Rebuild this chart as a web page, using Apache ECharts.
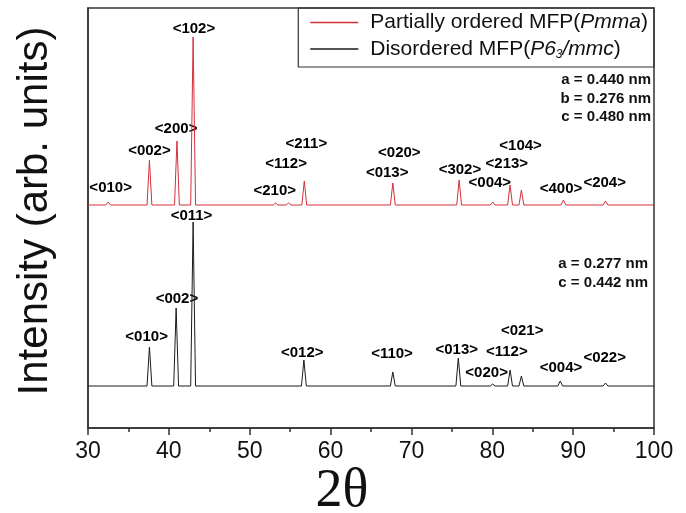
<!DOCTYPE html>
<html>
<head>
<meta charset="utf-8">
<script src="https://cdn.jsdelivr.net/npm/echarts@6/dist/echarts.min.js"></script>
<style>
  html, body { margin: 0; padding: 0; background: #fff; }
  #xrd { width: 686px; height: 513px; }
</style>
</head>
<body>
<div id="xrd"></div>
<script>
// peak positions (2theta) and peak tops, baseline for each pattern
var redBase = 223
var redPos = [32.5, 37.6, 41.0, 43.0, 53.2, 54.8, 56.75, 67.7, 75.9, 80.05, 82.2, 83.6, 88.8, 94.0]
var redTop = [226, 268, 287, 391, 225, 225, 247, 245, 248, 226, 243, 238, 228, 227]

var blackBase = 42
var blackPos = [37.6, 40.9, 43.0, 56.7, 67.7, 75.8, 80.05, 82.2, 83.6, 88.4, 94.0]
var blackTop = [81, 120, 206, 68, 56, 70, 44, 58, 52, 47, 45]

// hkl labels: [text, 2theta, intensity]
var redLabels = [
    ['<010>', 32.8, 240], ['<002>', 37.6, 277], ['<200>', 40.9, 299], ['<102>', 43.1, 399],
    ['<210>', 53.1, 237], ['<112>', 54.5, 264], ['<211>', 57.0, 284],
    ['<013>', 67.0, 255], ['<020>', 68.5, 275], ['<302>', 76.0, 258],
    ['<004>', 79.7, 245], ['<213>', 81.8, 264], ['<104>', 83.5, 282],
    ['<400>', 88.5, 239], ['<204>', 93.9, 245]
]
var blackLabels = [
    ['<010>', 37.25, 91], ['<002>', 41.0, 129], ['<011>', 42.8, 212], ['<012>', 56.5, 75],
    ['<110>', 67.6, 74], ['<013>', 75.6, 78], ['<020>', 79.3, 55], ['<112>', 81.8, 76],
    ['<021>', 83.7, 97], ['<004>', 88.5, 60], ['<022>', 93.9, 70]
]

function buildPattern(base, pos, top) {
    var pts = [[30, base]]
    for (var i = 0; i < pos.length; i++) {
        pts.push([pos[i] - 0.3, base])
        pts.push([pos[i], top[i]])
        pts.push([pos[i] + 0.3, base])
    }
    pts.push([100, base])
    return pts
}

function buildLabels(list) {
    return list.map(function (d) { return { name: d[0], value: [d[1], d[2]] } })
}

var font = 'Liberation Sans, Arial, sans-serif'
var chart = echarts.init(document.getElementById('xrd'))

var labelStyle = {
    show: true,
    position: 'inside',
    formatter: '{b}',
    fontFamily: font,
    fontSize: 15,
    fontWeight: 'bold',
    color: '#000',
    opacity: 1,
    textBorderWidth: 0
}

var option = {
    animation: false,
    grid: {
        left: 88, right: 32, top: 8, bottom: 85,
        show: true, borderColor: '#333', borderWidth: 1.5
    },
    legend: {
        data: ['Partially ordered MFP(Pmma)', 'Disordered MFP(P63/mmc)'],
        orient: 'vertical',
        right: 32, top: 8,
        padding: [4, 6, 6, 12],
        icon: 'rect',
        itemWidth: 48, itemHeight: 1.3, itemGap: 4,
        borderColor: '#333', borderWidth: 1.2,
        formatter: function (name) {
            if (name.indexOf('Pmma') > -1) return '{n|Partially ordered MFP(}{i|Pmma}{n|)}'
            return '{n|Disordered MFP(}{i|P6}{s|3}{i|/mmc}{n|)}'
        },
        textStyle: {
            padding: [0, 0, 0, 7],
            rich: {
                n: { fontFamily: font, fontSize: 21, color: '#111', lineHeight: 22 },
                i: { fontFamily: font, fontSize: 21, fontStyle: 'italic', color: '#111', lineHeight: 22 },
                s: { fontFamily: font, fontSize: 12, fontStyle: 'italic', color: '#111', lineHeight: 22, padding: [12, 0, 0, 0] }
            }
        }
    },
    xAxis: {
        type: 'value', min: 30, max: 100, interval: 10,
        axisLine: { lineStyle: { color: '#333', width: 1.5 } },
        axisTick: { length: 7, lineStyle: { color: '#333', width: 1.5 } },
        minorTick: { show: true, splitNumber: 2, length: 4, lineStyle: { color: '#333', width: 1.5 } },
        splitLine: { show: false },
        axisLabel: { fontFamily: font, fontSize: 23, color: '#111', margin: 12 }
    },
    yAxis: {
        type: 'value', min: 0, max: 420,
        axisLine: { show: true, lineStyle: { color: '#333', width: 1.5 } },
        axisTick: { show: false },
        axisLabel: { show: false },
        splitLine: { show: false }
    },
    series: [
        {
            name: 'Partially ordered MFP(Pmma)', type: 'line', symbol: 'none',
            data: buildPattern(redBase, redPos, redTop),
            lineStyle: { color: '#d3303a', width: 1 }, itemStyle: { color: '#d3303a' }
        },
        {
            name: 'Disordered MFP(P63/mmc)', type: 'line', symbol: 'none',
            data: buildPattern(blackBase, blackPos, blackTop),
            lineStyle: { color: '#1a1a1a', width: 1 }, itemStyle: { color: '#1a1a1a' }
        },
        {
            type: 'scatter', symbolSize: 0, silent: true,
            itemStyle: { opacity: 1, color: '#000' },
            data: buildLabels(redLabels), label: labelStyle
        },
        {
            type: 'scatter', symbolSize: 0, silent: true,
            itemStyle: { opacity: 1, color: '#000' },
            data: buildLabels(blackLabels), label: labelStyle
        }
    ],
    graphic: [
        {
            type: 'text', x: 35, y: 211, rotation: Math.PI / 2,
            style: { text: 'Intensity (arb. units)', font: '42px ' + font, fill: '#111', textAlign: 'center', textVerticalAlign: 'middle' }
        },
        {
            type: 'text', x: 342, y: 492,
            style: { text: '2θ', font: '54px Liberation Serif, Times New Roman, serif', fill: '#111', textAlign: 'center', textVerticalAlign: 'middle' }
        },
        {
            type: 'text', x: 651, y: 71,
            style: { text: 'a = 0.440 nm\nb = 0.276 nm\nc = 0.480 nm', font: 'bold 15px ' + font, lineHeight: 18.3, fill: '#111', textAlign: 'right' }
        },
        {
            type: 'text', x: 648, y: 254,
            style: { text: 'a = 0.277 nm\nc = 0.442 nm', font: 'bold 15px ' + font, lineHeight: 19, fill: '#111', textAlign: 'right' }
        }
    ]
}
chart.setOption(option)
</script>
</body>
</html>
